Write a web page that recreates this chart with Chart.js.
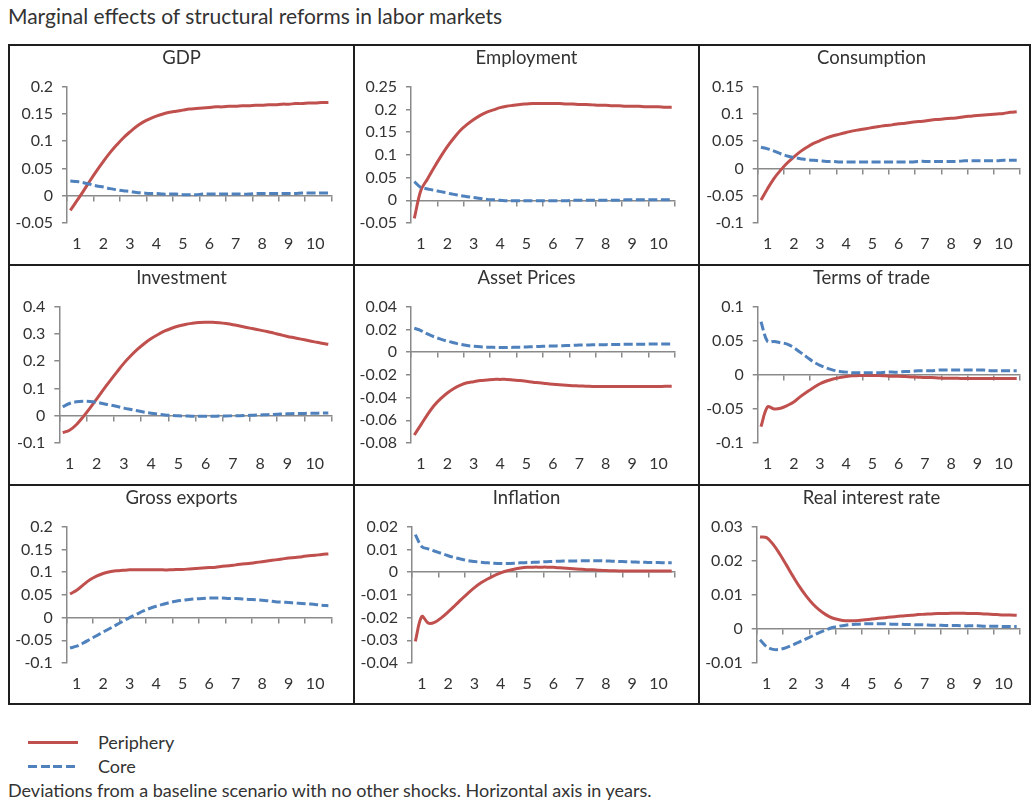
<!DOCTYPE html>
<html><head><meta charset="utf-8">
<script src="https://cdn.jsdelivr.net/npm/chart.js@4.4.1/dist/chart.umd.min.js"></script>
<style>
html,body{margin:0;padding:0;background:#fff;}
body{width:1033px;height:800px;position:relative;overflow:hidden;font-family:Lato,"Open Sans",sans-serif;color:#333;}
#mainTitle{position:absolute;left:8px;top:4px;font-size:21px;line-height:24px;white-space:nowrap;}
.frame{position:absolute;background:#1e1e1e;z-index:2;}
.cell{position:absolute;z-index:1;}
.cell canvas{display:block;}
.leg{position:absolute;left:28px;height:20px;font-size:18px;line-height:20px;white-space:nowrap;}
.leg .sw{position:absolute;left:0;top:8.5px;width:50px;height:3px;}
.leg .tx{position:absolute;left:70px;top:0;}
#footer{position:absolute;left:8px;top:780px;font-size:18px;line-height:20px;white-space:nowrap;}
</style></head>
<body>
<div id="mainTitle">Marginal effects of structural reforms in labor markets</div>
<div id="grid"></div>
<div id="legend"></div>
<div id="footer">Deviations from a baseline scenario with no other shocks. Horizontal axis in years.</div>
<script>
// ---------- data ----------
const xLabels = ['1','2','3','4','5','6','7','8','9','10'];
const seriesNames = ['Periphery','Core'];
const panelTitles = ['GDP','Employment','Consumption','Investment','Asset Prices','Terms of trade','Gross exports','Inflation','Real interest rate'];

const gdpTicks = [-0.05,0,0.05,0.1,0.15,0.2];
const employmentTicks = [-0.05,0,0.05,0.1,0.15,0.2,0.25];
const consumptionTicks = [-0.1,-0.05,0,0.05,0.1,0.15];
const investmentTicks = [-0.1,0,0.1,0.2,0.3,0.4];
const assetTicks = [-0.08,-0.06,-0.04,-0.02,0,0.02,0.04];
const totTicks = [-0.1,-0.05,0,0.05,0.1];
const exportsTicks = [-0.1,-0.05,0,0.05,0.1,0.15,0.2];
const inflationTicks = [-0.04,-0.03,-0.02,-0.01,0,0.01,0.02];
const rirTicks = [-0.01,0,0.01,0.02,0.03];

// quarterly responses (40 quarters)
const gdpPeriphery = [-0.027,-0.009,0.009,0.028,0.046,0.063,0.079,0.093,0.106,0.117,0.127,0.135,0.141,0.146,0.150,0.153,0.155,0.157,0.159,0.160,0.161,0.162,0.163,0.163,0.164,0.164,0.165,0.165,0.166,0.166,0.167,0.167,0.168,0.168,0.169,0.169,0.170,0.170,0.171,0.171];
const gdpCore = [0.027,0.026,0.024,0.021,0.018,0.016,0.013,0.011,0.009,0.008,0.006,0.005,0.004,0.004,0.003,0.003,0.003,0.002,0.002,0.002,0.003,0.003,0.003,0.003,0.003,0.003,0.003,0.003,0.004,0.004,0.004,0.004,0.004,0.004,0.004,0.005,0.005,0.005,0.005,0.005];
const employmentPeriphery = [-0.040,0.022,0.047,0.072,0.096,0.118,0.137,0.154,0.167,0.178,0.187,0.194,0.199,0.204,0.207,0.209,0.211,0.212,0.213,0.213,0.213,0.213,0.213,0.212,0.212,0.211,0.211,0.210,0.209,0.209,0.208,0.208,0.207,0.207,0.207,0.206,0.206,0.206,0.205,0.205];
const employmentCore = [0.041,0.028,0.025,0.022,0.019,0.016,0.013,0.010,0.008,0.006,0.004,0.002,0.001,0.000,-0.001,-0.001,-0.001,-0.001,-0.001,-0.001,-0.001,-0.001,-0.001,-0.001,0.000,0.000,0.000,0.000,0.000,0.000,0.000,0.000,0.001,0.001,0.001,0.001,0.001,0.001,0.001,0.001];
const consumptionPeriphery = [-0.058,-0.037,-0.018,-0.003,0.010,0.021,0.031,0.039,0.046,0.051,0.056,0.060,0.063,0.066,0.069,0.071,0.073,0.075,0.077,0.079,0.080,0.082,0.083,0.085,0.086,0.087,0.089,0.090,0.091,0.092,0.093,0.095,0.096,0.097,0.098,0.099,0.100,0.101,0.103,0.104];
const consumptionCore = [0.039,0.036,0.032,0.027,0.023,0.020,0.018,0.016,0.015,0.014,0.013,0.013,0.012,0.012,0.012,0.012,0.012,0.012,0.012,0.012,0.012,0.012,0.012,0.012,0.013,0.013,0.013,0.013,0.013,0.013,0.013,0.014,0.014,0.014,0.014,0.014,0.014,0.015,0.015,0.015];
const investmentPeriphery = [-0.062,-0.053,-0.033,-0.004,0.028,0.062,0.097,0.130,0.162,0.193,0.220,0.244,0.265,0.283,0.298,0.311,0.321,0.329,0.335,0.339,0.342,0.343,0.343,0.341,0.338,0.334,0.329,0.324,0.319,0.314,0.309,0.303,0.297,0.291,0.286,0.281,0.276,0.271,0.266,0.262];
const investmentCore = [0.033,0.045,0.051,0.053,0.052,0.049,0.044,0.039,0.034,0.028,0.023,0.018,0.013,0.009,0.006,0.003,0.001,0.000,-0.001,-0.002,-0.002,-0.002,-0.002,-0.001,-0.001,0.000,0.000,0.001,0.002,0.003,0.004,0.005,0.006,0.007,0.008,0.008,0.009,0.009,0.010,0.010];
const assetPeriphery = [-0.073,-0.064,-0.055,-0.047,-0.041,-0.036,-0.032,-0.029,-0.027,-0.026,-0.025,-0.0245,-0.024,-0.024,-0.024,-0.0245,-0.025,-0.0257,-0.0265,-0.027,-0.0277,-0.0283,-0.0288,-0.0292,-0.0295,-0.0298,-0.030,-0.0302,-0.0303,-0.0303,-0.0303,-0.0303,-0.0303,-0.0303,-0.0303,-0.0303,-0.0302,-0.0302,-0.0301,-0.0300];
const assetCore = [0.021,0.019,0.016,0.0135,0.0115,0.0097,0.0082,0.0068,0.0058,0.0052,0.0047,0.0044,0.0042,0.0041,0.0041,0.0042,0.0044,0.0046,0.0048,0.0050,0.0052,0.0054,0.0056,0.0058,0.0060,0.0062,0.0063,0.0064,0.0065,0.0066,0.0067,0.0068,0.0069,0.0069,0.0070,0.0070,0.0071,0.0071,0.0072,0.0072];
const totPeriphery = [-0.076,-0.047,-0.050,-0.049,-0.045,-0.040,-0.032,-0.025,-0.019,-0.013,-0.009,-0.006,-0.004,-0.0025,-0.0015,-0.001,-0.001,-0.001,-0.001,-0.0015,-0.002,-0.002,-0.0025,-0.003,-0.0035,-0.004,-0.004,-0.0045,-0.005,-0.005,-0.005,-0.0055,-0.0055,-0.0055,-0.0055,-0.0055,-0.0055,-0.0055,-0.0055,-0.0055];
const totCore = [0.078,0.049,0.049,0.047,0.045,0.040,0.033,0.026,0.019,0.014,0.010,0.007,0.005,0.004,0.003,0.003,0.003,0.003,0.003,0.004,0.004,0.004,0.005,0.005,0.006,0.006,0.006,0.007,0.007,0.007,0.007,0.007,0.007,0.007,0.007,0.006,0.006,0.006,0.006,0.006];
const exportsPeriphery = [0.052,0.060,0.072,0.083,0.091,0.097,0.101,0.103,0.104,0.105,0.105,0.105,0.105,0.105,0.105,0.105,0.106,0.106,0.107,0.108,0.109,0.110,0.111,0.113,0.114,0.116,0.118,0.119,0.121,0.123,0.125,0.127,0.129,0.131,0.132,0.134,0.136,0.137,0.139,0.140];
const exportsCore = [-0.067,-0.063,-0.056,-0.048,-0.040,-0.032,-0.024,-0.016,-0.008,0.000,0.007,0.014,0.020,0.025,0.029,0.033,0.036,0.038,0.040,0.041,0.042,0.043,0.043,0.043,0.042,0.042,0.041,0.040,0.039,0.038,0.037,0.035,0.034,0.033,0.032,0.031,0.030,0.029,0.027,0.026];
const inflationPeriphery = [-0.0305,-0.0195,-0.0225,-0.022,-0.020,-0.0175,-0.0148,-0.012,-0.0093,-0.0068,-0.0047,-0.003,-0.0015,-0.0003,0.0006,0.0013,0.0018,0.0021,0.0022,0.0022,0.0022,0.0021,0.0019,0.0017,0.0015,0.0013,0.0011,0.0010,0.0008,0.0007,0.0006,0.0005,0.0005,0.0005,0.0005,0.0005,0.0005,0.0005,0.0005,0.0005];
const inflationCore = [0.0165,0.0112,0.0102,0.0092,0.0082,0.0072,0.0064,0.0057,0.0051,0.0047,0.0043,0.0041,0.0039,0.0038,0.0038,0.0039,0.0041,0.0042,0.0043,0.0045,0.0046,0.0047,0.0048,0.0049,0.0049,0.0050,0.0050,0.0050,0.0050,0.0049,0.0048,0.0047,0.0046,0.0045,0.0044,0.0043,0.0042,0.0042,0.0041,0.0041];
const rirPeriphery = [0.0270,0.0268,0.0248,0.0220,0.0188,0.0155,0.0124,0.0097,0.0074,0.0056,0.0042,0.0032,0.0027,0.0024,0.0024,0.0025,0.0027,0.0029,0.0031,0.0033,0.0035,0.0037,0.0039,0.0040,0.0042,0.0043,0.0044,0.0045,0.0045,0.0046,0.0046,0.0046,0.0045,0.0045,0.0044,0.0043,0.0042,0.0041,0.0041,0.0040];
const rirCore = [-0.0032,-0.0052,-0.0060,-0.0060,-0.0055,-0.0047,-0.0038,-0.0029,-0.0020,-0.0011,-0.0003,0.0004,0.0008,0.0011,0.0013,0.0014,0.0015,0.0015,0.0015,0.0015,0.0014,0.0014,0.0013,0.0013,0.0012,0.0012,0.0011,0.0011,0.0010,0.0010,0.0010,0.0009,0.0009,0.0009,0.0008,0.0008,0.0008,0.0007,0.0007,0.0007];

const panels = [
  {title: panelTitles[0], ticks: gdpTicks, per: gdpPeriphery, core: gdpCore},
  {title: panelTitles[1], ticks: employmentTicks, per: employmentPeriphery, core: employmentCore},
  {title: panelTitles[2], ticks: consumptionTicks, per: consumptionPeriphery, core: consumptionCore},
  {title: panelTitles[3], ticks: investmentTicks, per: investmentPeriphery, core: investmentCore},
  {title: panelTitles[4], ticks: assetTicks, per: assetPeriphery, core: assetCore},
  {title: panelTitles[5], ticks: totTicks, per: totPeriphery, core: totCore},
  {title: panelTitles[6], ticks: exportsTicks, per: exportsPeriphery, core: exportsCore},
  {title: panelTitles[7], ticks: inflationTicks, per: inflationPeriphery, core: inflationCore},
  {title: panelTitles[8], ticks: rirTicks, per: rirPeriphery, core: rirCore}
];

// ---------- layout / style ----------
const RED = '#C0504D', BLUE = '#4F81BD', AXIS = '#8a8a8a', TEXT = '#333333';
const FONT = 'Lato, "Open Sans", sans-serif';
const nQ = 40;
const colLeft = [10, 355, 700], cellW = 343;
const padRight = [21.3, 23, 23];
const rowTop = [46, 266, 486], rowH = [218, 218, 217];
const axisLeft = [57, 56, 57.7, 49.3, 56, 57.7, 56.7, 57, 56.7];
const plotBottom = 177;
const labelPos = xLabels.map((_, k) => 1.5 + 4 * k);

// frame lines
const grid = document.getElementById('grid');
function line(l, t, w, h) { const d = document.createElement('div'); d.className = 'frame'; Object.assign(d.style, {left: l + 'px', top: t + 'px', width: w + 'px', height: h + 'px'}); grid.appendChild(d); }
line(8, 44, 1023, 2); line(8, 703, 1023, 2); line(8, 44, 2, 661); line(1029, 44, 2, 661);
line(353, 44, 2, 661); line(698, 44, 2, 661); line(8, 264, 1023, 2); line(8, 484, 1023, 2);

// legend
const legend = document.getElementById('legend');
seriesNames.forEach((name, i) => {
  const d = document.createElement('div'); d.className = 'leg'; d.style.top = (732 + 24 * i) + 'px';
  const sw = document.createElement('div'); sw.className = 'sw';
  sw.style.background = i === 0 ? RED : `repeating-linear-gradient(to right, ${BLUE} 0 9px, transparent 9px 12.5px)`;
  const tx = document.createElement('div'); tx.className = 'tx'; tx.textContent = name;
  d.appendChild(sw); d.appendChild(tx); legend.appendChild(d);
});

function fmt(v) { const r = Math.round(v * 10000) / 10000; return r === 0 ? '0' : String(r); }

panels.forEach((p, i) => {
  const c = i % 3, r = Math.floor(i / 3);
  const W = cellW, H = rowH[r];
  const cell = document.createElement('div'); cell.className = 'cell';
  Object.assign(cell.style, {left: colLeft[c] + 'px', top: rowTop[r] + 'px', width: W + 'px', height: H + 'px'});
  const cv = document.createElement('canvas'); cv.width = W; cv.height = H; cell.appendChild(cv); grid.appendChild(cell);
  const mk = arr => arr.map((v, k) => ({x: k + 0.5, y: v}));
  const ax = axisLeft[i], pr = padRight[c];
  new Chart(cv.getContext('2d'), {
    type: 'line',
    data: {datasets: [
      {label: seriesNames[0], data: mk(p.per), borderColor: RED, borderWidth: 3, pointRadius: 0, tension: 0.35, fill: false, xAxisID: 'x', yAxisID: 'y', order: 1},
      {label: seriesNames[1], data: mk(p.core), borderColor: BLUE, borderWidth: 3, borderDash: [9, 3.5], pointRadius: 0, tension: 0.35, fill: false, xAxisID: 'x', yAxisID: 'y', order: 0}
    ]},
    options: {
      responsive: false, animation: false, events: [],
      layout: {padding: 0},
      plugins: {
        legend: {display: false}, tooltip: {enabled: false},
        title: {display: true, text: p.title, color: TEXT, font: {family: FONT, size: 18.5, weight: 'normal', lineHeight: 1.2}, padding: {top: 1.2, bottom: 17.3}}
      },
      scales: {
        x: {type: 'linear', min: 0, max: nQ, position: {y: 0},
            ticks: {display: false, stepSize: 4},
            grid: {display: true, drawOnChartArea: false, drawTicks: true, tickLength: 5, color: AXIS, lineWidth: 1.5},
            border: {display: true, color: AXIS, width: 1.5}},
        x2: {type: 'linear', min: 0, max: nQ, position: 'bottom',
             afterBuildTicks: s => { s.ticks = labelPos.map(v => ({value: v})); },
             afterFit: s => { s.height = H - plotBottom; },
             ticks: {autoSkip: false, maxRotation: 0, padding: 11.4, color: TEXT, font: {family: FONT, size: 16}, callback: (v, idx) => xLabels[idx]},
             grid: {display: false, drawTicks: false}, border: {display: false}},
        y: {type: 'linear', position: 'left', min: p.ticks[0], max: p.ticks[p.ticks.length - 1],
            afterBuildTicks: s => { s.ticks = p.ticks.map(v => ({value: v})); },
            afterFit: s => { s.width = ax; },
            ticks: {padding: 9, color: TEXT, font: {family: FONT, size: 16}, callback: v => fmt(v)},
            grid: {display: true, drawOnChartArea: false, drawTicks: true, tickLength: 5, color: AXIS, lineWidth: 1.5},
            border: {display: true, color: AXIS, width: 1.5}},
        yR: {type: 'linear', position: 'right', min: 0, max: 1, display: true,
             ticks: {display: false}, grid: {display: false, drawTicks: false}, border: {display: false},
             afterFit: s => { s.width = pr; }}
      }
    }
  });
});
</script>
</body></html>
